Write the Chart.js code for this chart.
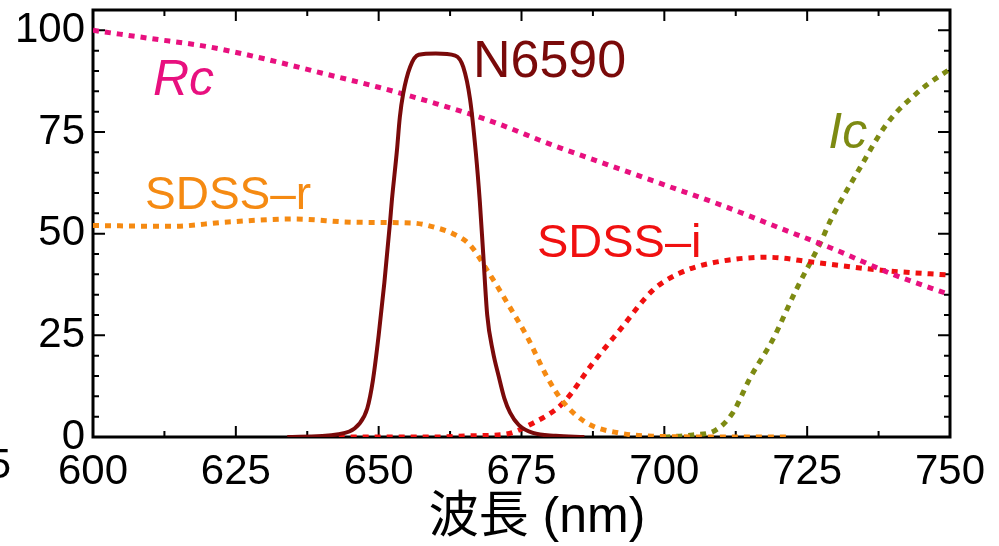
<!DOCTYPE html>
<html>
<head>
<meta charset="utf-8">
<script src="https://cdn.jsdelivr.net/npm/chart.js@4/dist/chart.umd.min.js"></script>
<style>
  html, body { margin: 0; padding: 0; background: #fff; }
  #chart { display: block; }
</style>
</head>
<body>
<canvas id="chart" width="999" height="546"></canvas>
<script>
// wavelength (nm) / transmission (%)
const n6590Wl = [634, 643, 646.7, 648, 649, 650, 651, 652, 652.3, 653.2, 653.7, 654.3, 655.5, 657, 660, 663.4, 664.8, 666, 667, 667.7, 668.3, 669, 670, 671, 672, 673, 674.5, 677, 681, 686];
const n6590T  = [0, 0.7, 3.4, 7, 14, 25, 38, 53, 58, 70.5, 78.6, 84.5, 91, 94, 94.3, 93.8, 91, 83, 70, 58, 45, 30, 21, 15, 9.5, 6, 3, 1, 0.3, 0];

const rcWl = [600, 610, 620, 630, 640, 650, 660, 670, 680, 690, 700, 710, 720, 730, 740, 750];
const rcT  = [100, 98, 96, 93, 89.5, 86, 82, 77.5, 72, 67, 62, 57, 51.5, 46, 40, 35];

const sdssRWl = [600, 614, 623, 635, 646, 656, 660, 663, 666, 669, 672.5, 676, 679.5, 682.3, 686.5, 692, 698, 710, 721.5];
const sdssRT  = [52, 51.8, 52.8, 53.6, 52.8, 52.6, 51.5, 50, 47.2, 41, 33, 24.6, 14.7, 8.6, 3.4, 1, 0.2, 0, 0];

const sdssIWl = [643, 660, 666, 671.8, 677, 682.3, 687.5, 692.2, 698, 702.7, 708, 718, 726, 738, 750];
const sdssIT  = [0, 0, 0.3, 0.6, 3.4, 8.4, 18.2, 26.3, 36.1, 40.3, 42.7, 44.2, 43, 41, 39.8];

const icWl = [700, 705, 709, 712, 715, 719, 723, 727.3, 729, 734.3, 739, 744.8, 750];
const icT  = [0, 0.5, 1.7, 6, 14.5, 24, 36, 47.7, 53, 66.3, 77.1, 85.3, 90.5];

const xTicks = [600, 625, 650, 675, 700, 725, 750];
const yTicks = [0, 25, 50, 75, 100];

// curve labels: text, wavelength, value, colour, italic, size
const curveLabels = [
  ['N6590', 666.5, 88.5, '#7a0a0a', false, 52],
  ['Rc', 610.5, 84, '#e8107f', true, 50],
  ['SDSS\u2013r', 609.1, 56, '#f58a12', false, 46],
  ['SDSS\u2013i', 677.7, 44.2, '#f01010', false, 47],
  ['Ic', 728.7, 71, '#7d8a12', true, 50]
];

const FONT = '"Liberation Sans", Arial, "Noto Sans CJK JP", sans-serif';

function pts(xs, ys) {
  return xs.map((x, i) => ({ x, y: ys[i] }));
}

function dotted(label, xs, ys, color) {
  return {
    label,
    data: pts(xs, ys),
    borderColor: color,
    borderWidth: 5,
    borderDash: [6, 6],
    pointRadius: 0,
    cubicInterpolationMode: 'monotone',
    fill: false,
    order: 2
  };
}

const framePlugin = {
  id: 'frame',
  beforeDatasetsDraw(chart) {
    const { ctx, chartArea: a, scales } = chart;
    ctx.save();
    ctx.strokeStyle = '#000';
    ctx.lineWidth = 3;
    ctx.strokeRect(a.left, a.top, a.right - a.left, a.bottom - a.top);
    ctx.lineWidth = 2;
    ctx.beginPath();
    for (let v = 600; v <= 750; v += 12.5) {
      const px = scales.x.getPixelForValue(v);
      const len = v % 25 === 0 ? 11 : 6;
      ctx.moveTo(px, a.bottom); ctx.lineTo(px, a.bottom - len);
      ctx.moveTo(px, a.top); ctx.lineTo(px, a.top + len);
    }
    for (let v = 0; v <= 105; v += 5) {
      const py = scales.y.getPixelForValue(v);
      const len = v % 25 === 0 ? 12 : 6;
      ctx.moveTo(a.left, py); ctx.lineTo(a.left + len, py);
      ctx.moveTo(a.right, py); ctx.lineTo(a.right - len, py);
    }
    ctx.stroke();
    ctx.restore();
  },
  afterDraw(chart) {
    const { ctx, scales } = chart;
    ctx.save();
    ctx.textBaseline = 'alphabetic';
    ctx.textAlign = 'left';
    curveLabels.forEach(([text, wl, v, color, italic, size]) => {
      ctx.font = (italic ? 'italic ' : '') + size + 'px ' + FONT;
      ctx.fillStyle = color;
      ctx.fillText(text, scales.x.getPixelForValue(wl), scales.y.getPixelForValue(v));
    });
    // axis title
    ctx.fillStyle = '#000';
    ctx.font = '50px ' + FONT;
    ctx.textAlign = 'center';
    ctx.textBaseline = 'middle';
    ctx.fillText('波長 (nm)', 537, 518);
    // cut-off label from the neighbouring panel
    ctx.font = '42px ' + FONT;
    ctx.textAlign = 'right';
    ctx.fillText('575', 11, 466);
    ctx.restore();
  }
};

new Chart(document.getElementById('chart'), {
  type: 'line',
  data: {
    datasets: [
      dotted('Rc', rcWl, rcT, '#e8107f'),
      dotted('SDSS-r', sdssRWl, sdssRT, '#f58a12'),
      dotted('SDSS-i', sdssIWl, sdssIT, '#f01010'),
      dotted('Ic', icWl, icT, '#7d8a12'),
      {
        label: 'N6590',
        data: pts(n6590Wl, n6590T),
        borderColor: '#7a0a0a',
        borderWidth: 4,
        pointRadius: 0,
        cubicInterpolationMode: 'monotone',
        fill: false,
        order: 1
      }
    ]
  },
  options: {
    responsive: false,
    animation: false,
    layout: { padding: { top: 10, right: 49, left: 0, bottom: 0 } },
    plugins: {
      legend: { display: false },
      tooltip: { enabled: false }
    },
    scales: {
      x: {
        type: 'linear',
        min: 600,
        max: 750,
        afterBuildTicks: s => { s.ticks = xTicks.map(v => ({ value: v })); },
        afterFit: s => { s.height = 109; s.paddingLeft = 0; s.paddingRight = 0; },
        grid: { display: false, drawTicks: false },
        border: { display: false },
        ticks: { color: '#000', padding: 10, maxRotation: 0, font: { family: FONT, size: 42 } }
      },
      y: {
        type: 'linear',
        min: 0,
        max: 105,
        afterBuildTicks: s => { s.ticks = yTicks.map(v => ({ value: v })); },
        afterFit: s => { s.width = 93; s.paddingTop = 0; s.paddingBottom = 0; },
        grid: { display: false, drawTicks: false },
        border: { display: false },
        ticks: { color: '#000', padding: 8, font: { family: FONT, size: 42 } }
      }
    }
  },
  plugins: [framePlugin]
});
</script>
</body>
</html>
